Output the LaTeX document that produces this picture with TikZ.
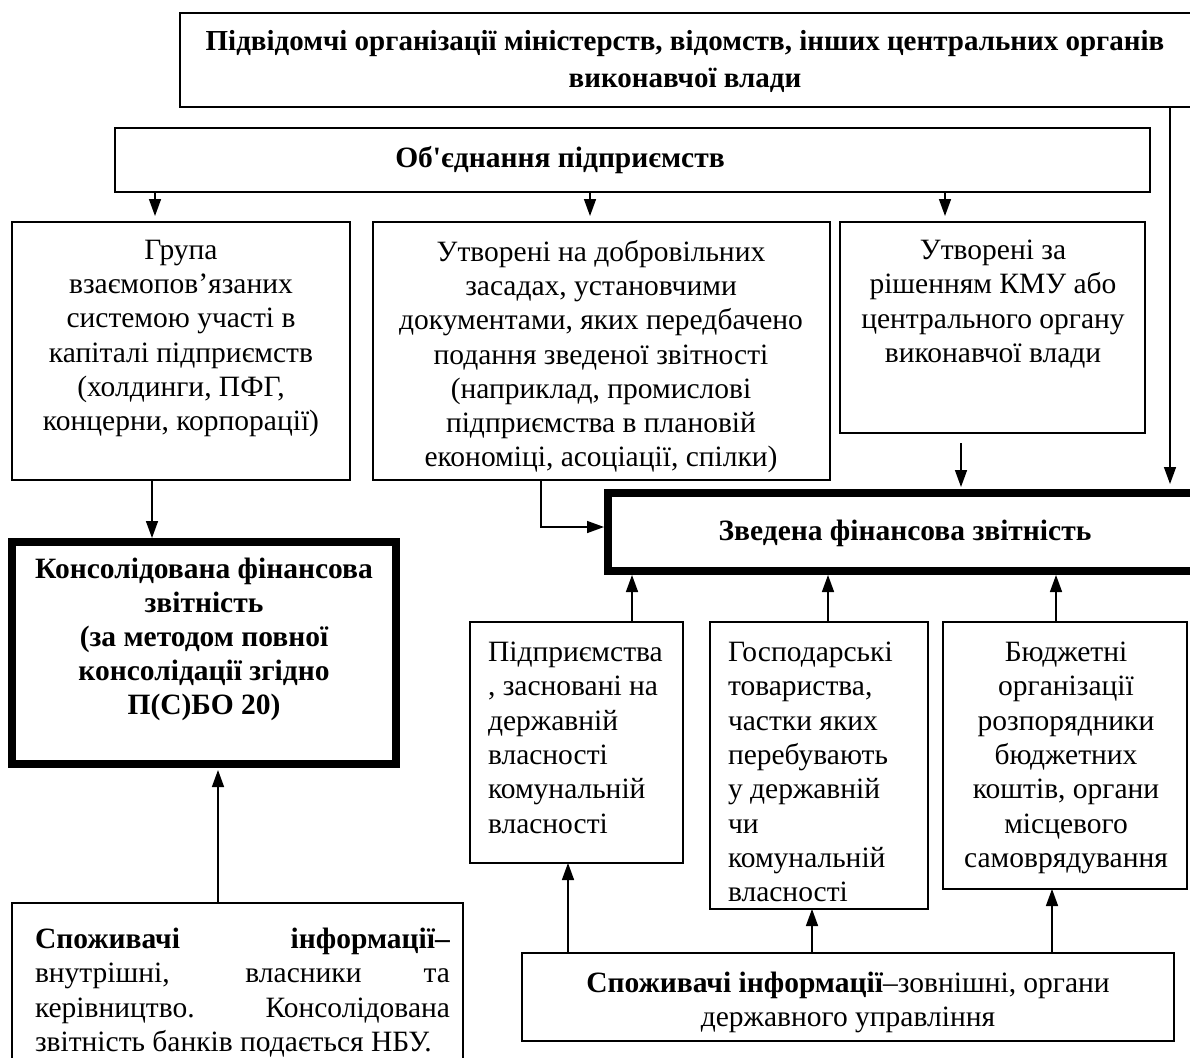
\documentclass[tikz,border=0pt]{standalone}
\usepackage{fontspec}
\setmainfont{Liberation Serif}[Ligatures=TeXOff]
\usetikzlibrary{arrows.meta}
\begin{document}
\begin{tikzpicture}[x=1pt,y=-1pt,
  frame/.style={draw, line width=1.5pt, rectangle, inner sep=0pt, outer sep=0pt, anchor=north west},
  heavy/.style={frame, line width=8pt},
  body/.style={inner sep=0pt, outer sep=0pt, anchor=north, align=center,
    font=\fontsize{29.5}{34.3}\selectfont},
  heading/.style={body, anchor=center, font=\bfseries\fontsize{29.5}{37}\selectfont},
  link/.style={line width=1.5pt, -{Triangle[length=17pt,width=12pt]}}
]
\path[use as bounding box, clip] (0,0) rectangle (1190,1057);
\fill[white] (0,0) rectangle (1190,1057);

% ---- frames ----
\node[frame, minimum width=1040, minimum height=94] (sub) at (180,13) {};
\node[frame, minimum width=1035, minimum height=64] (obj) at (115,128) {};
\node[frame, minimum width=338, minimum height=258] (grp) at (12,222) {};
\node[frame, minimum width=457, minimum height=258] (vol) at (373,222) {};
\node[frame, minimum width=305, minimum height=211] (kmu) at (840,222) {};
\node[heavy, minimum width=600, minimum height=78] (zved) at (608,493) {};
\node[heavy, minimum width=384, minimum height=222] (cons) at (12,542) {};
\node[frame, minimum width=213, minimum height=241] (ent) at (470,622) {};
\node[frame, minimum width=218, minimum height=287] (soc) at (710,622) {};
\node[frame, minimum width=244, minimum height=267] (bud) at (943,622) {};
\node[frame, minimum width=451, minimum height=180] (inusr) at (12,903) {};
\node[frame, minimum width=652, minimum height=88] (exusr) at (522,953) {};

% ---- texts ----
\node[heading, font=\bfseries\fontsize{29}{37}\selectfont] (subT) at (685,61)
  {Підвідомчі організації міністерств, відомств, інших центральних органів\\виконавчої влади};
\node[heading] (objT) at (560,160) {Об'єднання підприємств};
\node[body] (grpT) at (181,240)
  {Група\\взаємопов’язаних\\системою участі в\\капіталі підприємств\\(холдинги, ПФГ,\\концерни, корпорації)};
\node[body] (volT) at (601,240)
  {Утворені на добровільних\\засадах, установчими\\документами, яких передбачено\\подання зведеної звітності\\(наприклад, промислові\\підприємства в плановій\\економіці, асоціації, спілки)};
\node[body] (kmuT) at (993,240)
  {Утворені за\\рішенням КМУ або\\центрального органу\\виконавчої влади};
\node[heading] (zvedT) at (905,533) {Зведена фінансова звітність};
\node[body, font=\bfseries\fontsize{29.5}{34}\selectfont] (consT) at (204,558)
  {Консолідована фінансова\\звітність\\(за методом повної\\консолідації згідно\\П(С)БО 20)};
\node[body, anchor=north west, align=left] (entT) at (488,642)
  {Підприємства\\, засновані на\\державній\\власності\\комунальній\\власності};
\node[body, anchor=north west, align=left] (socT) at (728,642)
  {Господарські\\товариства,\\частки яких\\перебувають\\у державній\\чи\\комунальній\\власності};
\node[body] (budT) at (1066,642)
  {Бюджетні\\організації\\розпорядники\\бюджетних\\коштів, органи\\місцевого\\самоврядування};
\node[body, anchor=north west, align=left] (inusrT) at (35,928)
  {\makebox[415pt][s]{\textbf{Споживачі} \textbf{інформації–}}\\
   \makebox[415pt][s]{внутрішні, власники та}\\
   \makebox[415pt][s]{керівництво. Консолідована}\\
   звітність банків подається НБУ.};
\node[body] (exusrT) at (848,972)
  {\textbf{Споживачі інформації}–зовнішні, органи\\державного управління};

% ---- connector columns ----
\coordinate (c1) at (155,0);
\coordinate (c2) at (590,0);
\coordinate (c3) at (945,0);
\coordinate (c4) at (1170,0);
\coordinate (c5) at (152,0);
\coordinate (c6) at (541,0);
\coordinate (c7) at (961,0);
\coordinate (c8) at (632,0);
\coordinate (c9) at (828,0);
\coordinate (c10) at (1056,0);
\coordinate (c11) at (568,0);
\coordinate (c12) at (812,0);
\coordinate (c13) at (1052,0);
\coordinate (c14) at (218,0);
\coordinate (bend) at (541,527);

% ---- connectors ----
\draw[link, shorten >=6pt] (c1 |- obj.south) -- (c1 |- grp.north);
\draw[link, shorten >=6pt] (c2 |- obj.south) -- (c2 |- vol.north);
\draw[link, shorten >=6pt] (c3 |- obj.south) -- (c3 |- kmu.north);
\draw[link, shorten >=9pt] (c4 |- sub.south) -- (c4 |- zved.north);
\draw[link, shorten >=4pt] (c5 |- grp.south) -- (c5 |- cons.north);
\draw[link, shorten >=4pt] (c6 |- vol.south) -- (bend) -- (bend -| zved.west);
\draw[link, shorten <=10pt, shorten >=6pt] (c7 |- kmu.south) -- (c7 |- zved.north);
\draw[link, shorten >=4pt] (c8 |- ent.north) -- (c8 |- zved.south);
\draw[link, shorten >=4pt] (c9 |- soc.north) -- (c9 |- zved.south);
\draw[link, shorten >=4pt] (c10 |- bud.north) -- (c10 |- zved.south);
\draw[link] (c11 |- exusr.north) -- (c11 |- ent.south);
\draw[link] (c12 |- exusr.north) -- (c12 |- soc.south);
\draw[link] (c13 |- exusr.north) -- (c13 |- bud.south);
\draw[link, shorten >=6pt] (c14 |- inusr.north) -- (c14 |- cons.south);
\end{tikzpicture}
\end{document}
